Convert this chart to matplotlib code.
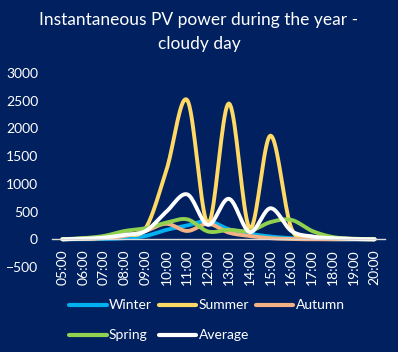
import numpy as np
import matplotlib
matplotlib.use("Agg")
import matplotlib.pyplot as plt

# hourly values (W)
hours = ["05:00", "06:00", "07:00", "08:00", "09:00", "10:00", "11:00", "12:00",
         "13:00", "14:00", "15:00", "16:00", "17:00", "18:00", "19:00", "20:00"]
winter = [0, 0, 5, 20, 60, 170, 250, 330, 180, 100, 50, 20, 10, 0, 0, 0]
summer = [0, 10, 30, 80, 200, 1250, 2510, 280, 2450, 200, 1870, 200, 50, 20, 5, 0]
autumn = [0, 5, 20, 60, 150, 280, 150, 280, 120, 60, 20, 5, 0, 0, 0, 0]
spring = [0, 20, 60, 150, 200, 300, 360, 140, 170, 150, 310, 350, 150, 40, 10, 0]
average = [0, 10, 30, 80, 150, 500, 810, 260, 730, 130, 560, 150, 50, 20, 5, 0]

series = [("Winter", winter, "#00B0F0"),
          ("Summer", summer, "#FFD966"),
          ("Autumn", autumn, "#F4B183"),
          ("Spring", spring, "#92D050"),
          ("Average", average, "white")]

bg = "#002060"


def smooth(x, y, n=20):
    # Excel-like smoothed line: cubic bezier through the points
    x = np.asarray(x, float)
    y = np.asarray(y, float)
    xs, ys = [], []
    for i in range(len(x) - 1):
        p0 = np.array([x[max(i - 1, 0)], y[max(i - 1, 0)]])
        p1 = np.array([x[i], y[i]])
        p2 = np.array([x[i + 1], y[i + 1]])
        p3 = np.array([x[min(i + 2, len(x) - 1)], y[min(i + 2, len(x) - 1)]])
        c1 = p1 + (p2 - p0) / 6
        c2 = p2 - (p3 - p1) / 6
        t = np.linspace(0, 1, n)[:, None]
        pts = (1 - t) ** 3 * p1 + 3 * (1 - t) ** 2 * t * c1 + 3 * (1 - t) * t ** 2 * c2 + t ** 3 * p2
        xs.extend(pts[:, 0])
        ys.extend(pts[:, 1])
    return xs, ys


plt.rcParams['font.family'] = ['Lato', 'DejaVu Sans']

fig = plt.figure(figsize=(3.98, 3.52), dpi=100, facecolor=bg)
ax = fig.add_axes([52 / 398, 1 - 267 / 352, 333 / 398, 194 / 352])
ax.set_facecolor(bg)

xpos = np.arange(len(hours))
lines = {}
for name, vals, col in series:
    sx, sy = smooth(xpos, vals)
    lines[name], = ax.plot(sx, sy, color=col, lw=2.8, label=name, solid_capstyle='round')

ax.set_xlim(-0.5, len(hours) - 0.5)
ax.set_ylim(-500, 3000)
ax.set_yticks(np.arange(-500, 3001, 500))
ax.set_xticks(xpos)
ax.set_xticklabels(hours)

for s in ["top", "right", "left"]:
    ax.spines[s].set_visible(False)
ax.spines["bottom"].set_position(("data", 0))
ax.spines["bottom"].set_color("#D9D9D9")
ax.spines["bottom"].set_linewidth(1)
ax.tick_params(colors="white", labelsize=10, length=0)
ax.tick_params(axis="x", pad=7, labelrotation=90)
ax.tick_params(axis="y", pad=10)

fig.text(0.5, 0.965, "Instantaneous PV power during the year -\ncloudy day",
         color="white", fontsize=12.5, ha="center", va="top", linespacing=1.6)

# row-major order like the reference: Winter Summer Autumn / Spring Average
order = ["Winter", "Spring", "Summer", "Average", "Autumn"]
leg = fig.legend([lines[k] for k in order], order, loc="upper center",
                 bbox_to_anchor=(0.52, 0.185), ncol=3,
                 frameon=False, fontsize=10, handlelength=2.7, handletextpad=0.15,
                 columnspacing=0.5, labelspacing=1.3)
for t in leg.get_texts():
    t.set_color("white")
for h in leg.get_lines():
    h.set_linewidth(3)

fig.savefig("out.png", dpi=100, facecolor=bg)
